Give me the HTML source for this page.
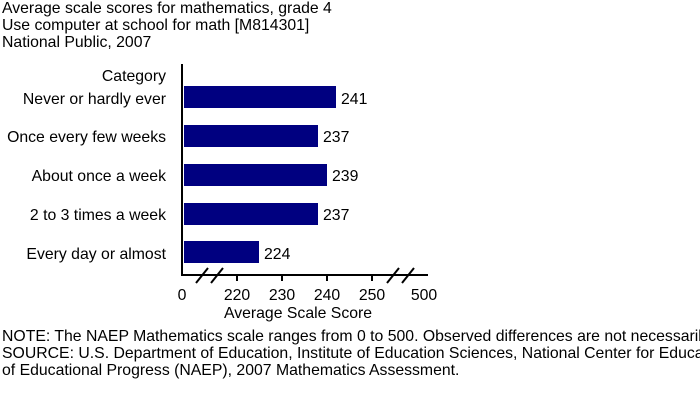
<!DOCTYPE html>
<html><head><style>body{margin:0;background:#fff}svg{display:block}</style></head><body>
<svg width="700" height="400" xmlns="http://www.w3.org/2000/svg" font-family="Liberation Sans, sans-serif" font-size="15.8" fill="#000">
<text x="2" y="13">Average scale scores for mathematics, grade 4</text>
<text x="2" y="30">Use computer at school for math [M814301]</text>
<text x="2" y="47">National Public, 2007</text>
<g text-anchor="end">
<text x="166" y="81">Category</text>
<text x="166" y="104">Never or hardly ever</text>
<text x="166" y="142">Once every few weeks</text>
<text x="166" y="181">About once a week</text>
<text x="166" y="220">2 to 3 times a week</text>
<text x="166" y="259">Every day or almost</text>
</g>
<g fill="#000080">
<rect x="184" y="86" width="152" height="22"/>
<rect x="184" y="125" width="134" height="22"/>
<rect x="184" y="164" width="143" height="22"/>
<rect x="184" y="203" width="134" height="22"/>
<rect x="184" y="241" width="75" height="22"/>
</g>
<text x="341" y="104">241</text>
<text x="323" y="142">237</text>
<text x="332" y="181">239</text>
<text x="323" y="220">237</text>
<text x="264" y="259">224</text>
<g stroke="#000" stroke-width="2" fill="none">
<line x1="182" y1="64" x2="182" y2="276"/>
<line x1="181" y1="275" x2="428" y2="275"/>
<line x1="237" y1="275" x2="237" y2="281"/>
<line x1="282" y1="275" x2="282" y2="281"/>
<line x1="327" y1="275" x2="327" y2="281"/>
<line x1="372" y1="275" x2="372" y2="281"/>
<line x1="196" y1="283" x2="208" y2="268"/>
<line x1="211" y1="283" x2="223" y2="268"/>
<line x1="387" y1="283" x2="399" y2="268"/>
<line x1="402" y1="283" x2="414" y2="268"/>
</g>
<g text-anchor="middle">
<text x="182" y="300">0</text>
<text x="237" y="300">220</text>
<text x="282" y="300">230</text>
<text x="327" y="300">240</text>
<text x="372" y="300">250</text>
<text x="424" y="300">500</text>
<text x="298" y="318">Average Scale Score</text>
</g>
<text x="2" y="341">NOTE: The NAEP Mathematics scale ranges from 0 to 500. Observed differences are not necessarily statistically significant.</text>
<text x="2" y="358">SOURCE: U.S. Department of Education, Institute of Education Sciences, National Center for Education Statistics, National Assessment</text>
<text x="2" y="375">of Educational Progress (NAEP), 2007 Mathematics Assessment.</text>
</svg>
</body></html>
